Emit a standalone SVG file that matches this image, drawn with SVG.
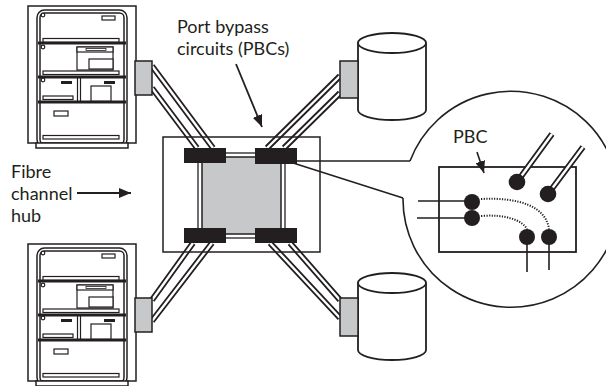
<svg xmlns="http://www.w3.org/2000/svg" xmlns:xlink="http://www.w3.org/1999/xlink" width="606" height="386" viewBox="0 0 606 386">
  <style>
    .ink { stroke: #231f20; fill: none; }
    .lbl { font-family: Lato, "Liberation Sans", sans-serif; font-size: 18px; fill: #231f20; }
    .tube-o { stroke: #231f20; stroke-width: 6; fill: none; }
    .tube-i { stroke: #ffffff; stroke-width: 2.4; fill: none; }
    .port { fill: #c7c8ca; stroke: #231f20; stroke-width: 1.5; }
    .blk { fill: #231f20; }
    .bar { fill: #ffffff; stroke: #231f20; stroke-width: 1.2; }
    .dot { fill: #231f20; }
    .wire { stroke: #231f20; stroke-width: 1.6; fill: none; }
    .dots { stroke: #231f20; stroke-width: 2; fill: none; stroke-dasharray: 1.2 1.4; }
  </style>
  <defs>
    <marker id="head" viewBox="0 0 12 10" refX="12" refY="5" markerWidth="12" markerHeight="10" markerUnits="userSpaceOnUse" orient="auto">
      <path d="M0,0 L12,5 L0,10 z" fill="#231f20"/>
    </marker>
    <!-- equipment rack, drawn at the upper position -->
    <g id="cabinet">
      <rect x="28" y="6" width="108" height="137" fill="#fff" stroke="#231f20" stroke-width="1.5"/>
      <rect x="38.5" y="11.5" width="87" height="134" rx="6" fill="none" stroke="#231f20" stroke-width="4.5"/>
      <rect x="38.5" y="11.5" width="87" height="134" rx="6" fill="none" stroke="#fff" stroke-width="1.5"/>
      <rect x="36" y="143" width="92" height="5" fill="#fff" stroke="#231f20" stroke-width="1.5"/>
      <!-- shelves -->
      <path d="M38,43H126M38,77H126M38,102H126" stroke="#231f20" stroke-width="3"/>
      <!-- knobs -->
      <circle cx="43" cy="15" r="1.8" fill="#fff" stroke="#231f20" stroke-width="1.2"/>
      <circle cx="43" cy="47" r="1.8" fill="#fff" stroke="#231f20" stroke-width="1.2"/>
      <circle cx="43" cy="80" r="1.8" fill="#fff" stroke="#231f20" stroke-width="1.2"/>
      <!-- top drawer -->
      <rect class="bar" x="102" y="16" width="13" height="4"/>
      <rect class="bar" x="43" y="38.5" width="76" height="3.5"/>
      <!-- second bay -->
      <rect class="bar" x="77" y="47" width="36" height="23"/>
      <rect class="bar" x="77" y="47" width="36" height="5"/>
      <rect x="86" y="48.5" width="20" height="2" fill="#fff" stroke="#231f20" stroke-width="0.8"/>
      <rect class="bar" x="89" y="59" width="24" height="10"/>
      <rect class="bar" x="43" y="71" width="76" height="3.5"/>
      <!-- third bay -->
      <path d="M77.5,77V102M80.5,77V102" stroke="#231f20" stroke-width="1.2"/>
      <rect x="61" y="81" width="11" height="3" fill="#231f20"/>
      <rect x="104" y="81" width="11" height="3" fill="#231f20"/>
      <rect class="bar" x="43" y="96" width="30" height="3.5"/>
      <rect class="bar" x="91" y="86" width="20" height="15"/>
      <!-- bottom bay -->
      <rect class="bar" x="54" y="111" width="14" height="5"/>
      <rect class="bar" x="43" y="135.5" width="76" height="3.5"/>
    </g>
    <!-- disk drive cylinder -->
    <g id="disk">
      <path d="M358,43V110A34,10 0 0 0 426,110V43" fill="#fff" stroke="#231f20" stroke-width="1.8"/>
      <ellipse cx="392" cy="43" rx="34" ry="10" fill="#fff" stroke="#231f20" stroke-width="1.8"/>
    </g>
  </defs>

  <!-- connectors: cables between hub ports and devices -->
  <g id="connectors">
    <path class="tube-o" d="M152,66L213,148M152,88L197,148M340,76L267,148M340,93L284,148M193,243L152,300M212,243L152,321M270,243L340,318M290,243L340,300"/>
    <path class="tube-i" d="M152,66L213,148M152,88L197,148M340,76L267,148M340,93L284,148M193,243L152,300M212,243L152,321M270,243L340,318M290,243L340,300"/>
    <!-- callout from the hub port into the detail view -->
    <path class="ink" stroke-width="1.6" d="M297,161H410M290,162L403,198"/>
    <!-- label pointers -->
    <line x1="236" y1="64" x2="262" y2="127" stroke="#231f20" stroke-width="1.8" marker-end="url(#head)"/>
    <line x1="77" y1="193" x2="131" y2="193" stroke="#231f20" stroke-width="1.8" marker-end="url(#head)"/>
    <line x1="477" y1="152" x2="484" y2="173" stroke="#231f20" stroke-width="1.6" marker-end="url(#head)"/>
  </g>

  <g id="server-top">
    <use xlink:href="#cabinet"/>
    <rect class="port" x="135" y="61" width="17" height="34"/>
  </g>
  <g id="server-bottom">
    <use xlink:href="#cabinet" transform="translate(0,238)"/>
    <rect class="port" x="135" y="298" width="17" height="34"/>
  </g>
  <g id="disk-top">
    <use xlink:href="#disk"/>
    <rect class="port" x="340" y="61" width="18" height="37"/>
  </g>
  <g id="disk-bottom">
    <use xlink:href="#disk" transform="translate(0,240)"/>
    <rect class="port" x="340" y="298" width="18" height="38"/>
  </g>

  <g id="hub">
    <rect class="ink" x="163" y="137" width="157" height="115" stroke-width="1.5" fill="none"/>
    <rect x="198" y="153" width="87" height="85" fill="none" stroke="#231f20" stroke-width="1.3"/>
    <rect x="202" y="157" width="79" height="77" fill="#c7c8ca" stroke="#231f20" stroke-width="1.5"/>
    <rect class="blk" x="184" y="148" width="42" height="15"/>
    <rect class="blk" x="255" y="148" width="42" height="16"/>
    <rect class="blk" x="184" y="228" width="42" height="15"/>
    <rect class="blk" x="255" y="228" width="42" height="15"/>
  </g>

  <g id="pbc-detail">
    <path class="ink" stroke-width="1.6" d="M410,161A108,108 0 1 1 403,198"/>
    <rect class="ink" x="439" y="167" width="137" height="85" stroke-width="1.8"/>
    <path class="tube-o" stroke-width="5" d="M517,182L552,134M548,194L583,147"/>
    <path class="tube-i" stroke-width="1.8" d="M517,182L552,134M548,194L583,147"/>
    <path class="wire" d="M418,201H472M417,218H472M527,237V272M549,237V270"/>
    <path class="dots" d="M481,199C520,197 546,207 549,229"/>
    <path class="dots" d="M481,216C505,214 522,220 527,229"/>
    <circle class="dot" cx="517" cy="182" r="8.3"/>
    <circle class="dot" cx="548" cy="194" r="8.3"/>
    <circle class="dot" cx="472" cy="202" r="8"/>
    <circle class="dot" cx="472" cy="218" r="8"/>
    <circle class="dot" cx="527" cy="237" r="8"/>
    <circle class="dot" cx="549" cy="237" r="8"/>
  </g>

  <g id="labels">
    <text class="lbl" x="177" y="33">Port bypass</text>
    <text class="lbl" x="177" y="55">circuits (PBCs)</text>
    <text class="lbl" x="11" y="178">Fibre</text>
    <text class="lbl" x="11" y="200">channel</text>
    <text class="lbl" x="11" y="222">hub</text>
    <text class="lbl" x="453" y="143">PBC</text>
  </g>
</svg>
